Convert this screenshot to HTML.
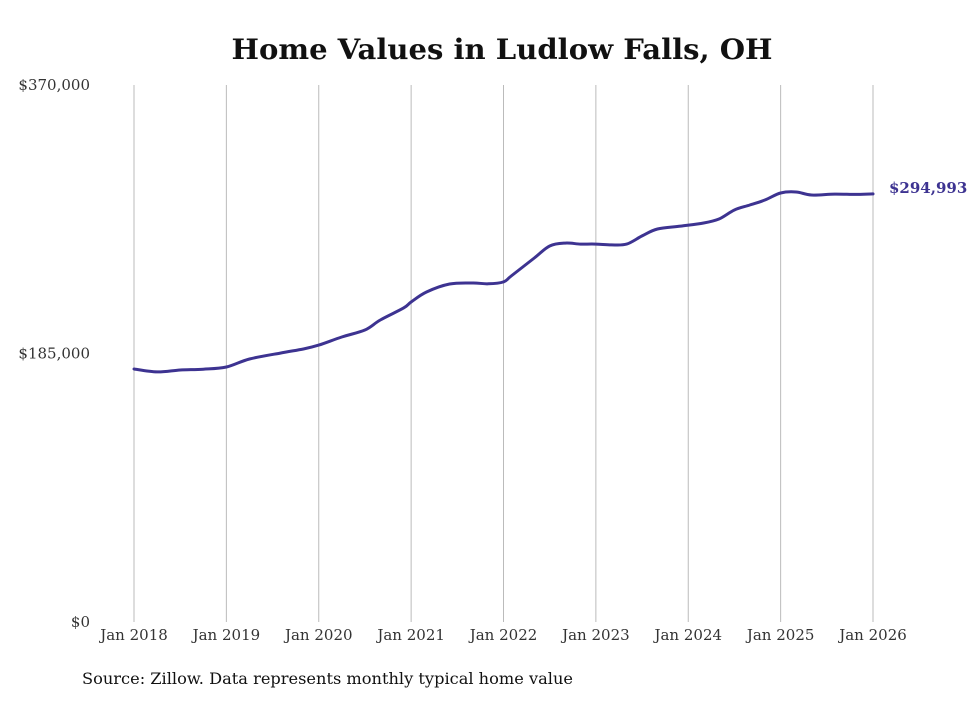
<!DOCTYPE html>
<html><head><meta charset="utf-8">
<style>
html,body{margin:0;padding:0;background:#fff;}
body{width:980px;height:699px;overflow:hidden;font-family:"DejaVu Serif",serif;}
</style></head>
<body>
<svg id="chart" width="980" height="699" xmlns="http://www.w3.org/2000/svg">
<text x="502" y="59" text-anchor="middle" font-family="DejaVu Serif, serif" font-weight="bold" font-size="28" fill="#111" textLength="541" lengthAdjust="spacingAndGlyphs">Home Values in Ludlow Falls, OH</text>
<g id="grid"></g>
<g id="yaxis"></g>
<g id="xaxis"></g>
<g id="series"></g>
<text x="82" y="684" font-family="DejaVu Serif, serif" font-size="16" fill="#111" textLength="491" lengthAdjust="spacingAndGlyphs">Source: Zillow. Data represents monthly typical home value</text>
</svg>
<script>
// months since Jan 2018
const months = [0,3,6,9,12,15,19,22,24,27,30,32,35,36,38,41,44,46,48,49,52,54,56,58,60,62,64,66,68,71,74,76,78,80,82,84,86,88,91,94,96];
const values = [174300,172300,173600,174200,175700,181200,185300,188100,190800,196400,201200,208100,216300,220500,227400,232900,233600,233000,234300,238400,250800,259100,261100,260400,260400,259800,260400,266000,270800,272800,274900,277700,283900,287300,290800,295600,296300,294200,294800,294600,294993];
const xTicks = [0,12,24,36,48,60,72,84,96];
const xTickLabels = ["Jan 2018","Jan 2019","Jan 2020","Jan 2021","Jan 2022","Jan 2023","Jan 2024","Jan 2025","Jan 2026"];
const yTicks = [0,185000,370000];
const yTickLabels = ["$0","$185,000","$370,000"];
const lastLabel = "$294,993";

const NS="http://www.w3.org/2000/svg";
const x = m => 134 + (873-134)*m/96;
const y = v => 622 - (622-85)*v/370000;
function mk(tag, attrs, parent, text){
  const e=document.createElementNS(NS,tag);
  for(const k in attrs) e.setAttribute(k,attrs[k]);
  if(text!==undefined) e.textContent=text;
  document.getElementById(parent).appendChild(e);
  return e;
}
xTicks.forEach((m,i)=>{
  const g=mk('line',{x1:x(m),x2:x(m),y1:85,y2:622,stroke:'#bbb','stroke-width':1},'grid');
  
  
  const t=mk('text',{x:x(m),y:640,'text-anchor':'middle','font-size':15,fill:'#333'},'xaxis',xTickLabels[i]);
  
  
});
yTicks.forEach((v,i)=>{
  const t=mk('text',{x:90,y:y(v)+5,'text-anchor':'end','font-size':15,fill:'#333'},'yaxis',yTickLabels[i]);
  
  
});
const pts=months.map((m,i)=>[x(m),y(values[i])]);
let d='M'+pts[0][0].toFixed(1)+','+pts[0][1].toFixed(1);
for(let i=0;i<pts.length-1;i++){
  const p0=pts[Math.max(0,i-1)],p1=pts[i],p2=pts[i+1],p3=pts[Math.min(pts.length-1,i+2)];
  const c1=[p1[0]+(p2[0]-p0[0])/6,p1[1]+(p2[1]-p0[1])/6];
  const c2=[p2[0]-(p3[0]-p1[0])/6,p2[1]-(p3[1]-p1[1])/6];
  d+=' C'+c1.map(v=>v.toFixed(1)).join(',')+' '+c2.map(v=>v.toFixed(1)).join(',')+' '+p2.map(v=>v.toFixed(1)).join(',');
}
const p=mk('path',{d:d,fill:'none',stroke:'#3d3391','stroke-width':3,'stroke-linejoin':'round','stroke-linecap':'round'},'series');


const lm=months[months.length-1], lv=values[values.length-1];
const lt=mk('text',{x:x(lm)+16,y:y(lv)-1,'font-size':15,'font-weight':'bold',fill:'#3d3391'},'series',lastLabel);


</script>
</body></html>
